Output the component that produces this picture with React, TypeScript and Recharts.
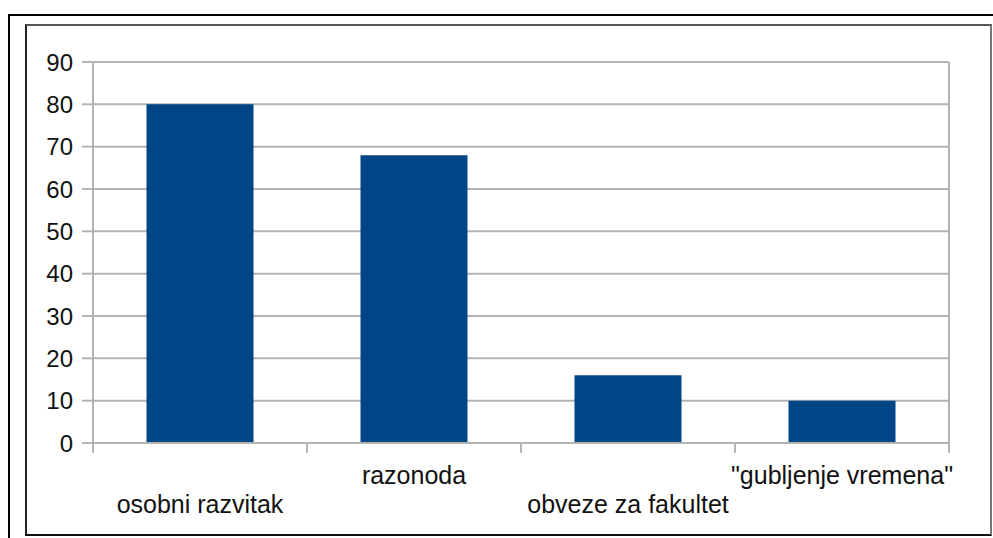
import { BarChart, Bar, XAxis, YAxis, CartesianGrid } from 'recharts';

const categories = ['osobni razvitak', 'razonoda', 'obveze za fakultet', '"gubljenje vremena"'];
const values = [80, 68, 16, 10];
const yTicks = [0, 10, 20, 30, 40, 50, 60, 70, 80, 90];

const data = categories.map((name, i) => ({ name, value: values[i] }));

const W = 993;
const H = 538;
const margin = { top: 62, right: 0, bottom: 0, left: 0 };
const yAxisW = 93;
const rightW = 44;
const band = (W - yAxisW - rightW) / categories.length;
const gridColor = '#b3b3b3';
const font = '"Liberation Sans", Arial, sans-serif';

const CategoryTick = (props: any) => {
  const { x, y, payload, index } = props;
  const upper = index % 2 === 1;
  return (
    <g>
      <line x1={x - band / 2} x2={x - band / 2} y1={y} y2={y + 10} stroke={gridColor} strokeWidth={2} />
      {index === categories.length - 1 && (
        <line x1={x + band / 2} x2={x + band / 2} y1={y} y2={y + 10} stroke={gridColor} strokeWidth={2} />
      )}
      <text x={x} y={y + (upper ? 41 : 70)} textAnchor="middle" fill="#111" fontSize={25} fontFamily={font}>
        {payload.value}
      </text>
    </g>
  );
};

const App = () => {
  return (
    <div style={{ position: 'absolute', left: 0, top: 0, width: W, height: H, background: '#fff' }}>
      <div style={{ position: 'absolute', left: 8, top: 14, width: W - 8, height: H - 14, borderLeft: '2px solid #000', borderTop: '2px solid #000', boxSizing: 'border-box' }} />
      <div style={{ position: 'absolute', left: 25, top: 24, width: 967, height: 512, borderLeft: '2px solid #222', borderTop: '2px solid #555', borderRight: '2px solid #777', borderBottom: '2px solid #111', boxSizing: 'border-box' }} />
      <div style={{ position: 'absolute', left: 0, top: 0 }}>
        <BarChart width={W} height={H} data={data} margin={margin} barCategoryGap="25%">
          <CartesianGrid vertical={false} stroke={gridColor} strokeWidth={2} />
          <XAxis
            dataKey="name"
            height={95}
            interval={0}
            tickLine={false}
            tickSize={0}
            tickMargin={0}
            axisLine={{ stroke: gridColor, strokeWidth: 2 }}
            tick={<CategoryTick />}
          />
          <YAxis
            width={yAxisW}
            domain={[0, 90]}
            ticks={yTicks}
            interval={0}
            tickSize={11}
            tickMargin={9}
            tickLine={{ stroke: gridColor, strokeWidth: 2 }}
            axisLine={{ stroke: gridColor, strokeWidth: 2 }}
            tick={{ fill: '#111', fontSize: 24, fontFamily: font }}
          />
          <YAxis
            yAxisId="r"
            orientation="right"
            width={rightW}
            domain={[0, 90]}
            tick={false}
            tickLine={false}
            axisLine={{ stroke: gridColor, strokeWidth: 2 }}
          />
          <Bar dataKey="value" fill="#004586" isAnimationActive={false} />
        </BarChart>
      </div>
    </div>
  );
};

export default App;
